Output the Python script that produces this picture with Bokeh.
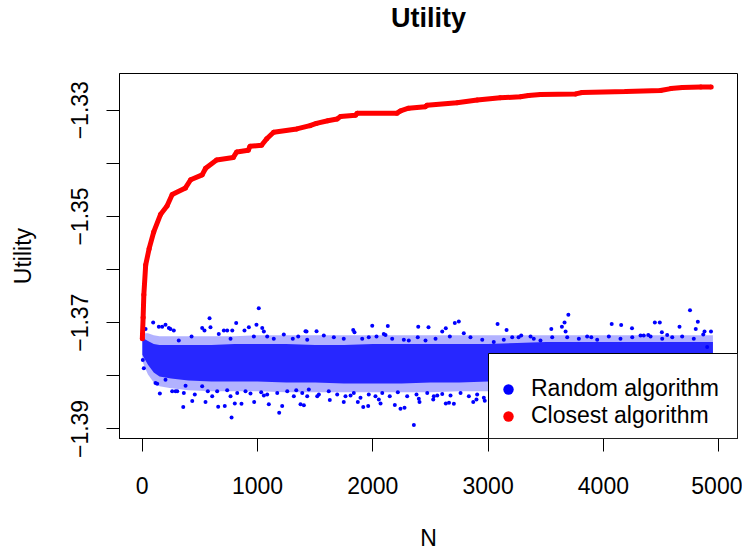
from bokeh.plotting import figure
from bokeh.models import FixedTicker, Legend, LegendItem, Range1d, BoxAnnotation
from bokeh.embed import file_html
from bokeh.resources import INLINE

# ---------------- data ----------------
title = "Utility"
x_label = "N"
y_label = "Utility"
x_ticks = [0, 1000, 2000, 3000, 4000, 5000]
y_ticks = [-1.39, -1.38, -1.37, -1.36, -1.35, -1.34, -1.33]
y_tick_labels = ["\u22121.39", "", "\u22121.37", "", "\u22121.35", "", "\u22121.33"]

# Closest algorithm (best utility found so far)
closest_n = [1, 8, 14, 30, 60, 100, 160, 215, 260, 375, 420, 520, 550, 645, 790, 820,
             920, 935, 1035, 1080, 1140, 1340, 1455, 1510, 1610, 1690, 1720, 1850, 1865,
             2210, 2240, 2310, 2455, 2470, 2730, 2905, 3105, 3280, 3350, 3455, 3760,
             3815, 4195, 4495, 4585, 4685, 4845, 4935]
closest_u = [-1.37304, -1.36902, -1.36476, -1.35915, -1.35606, -1.35291, -1.34957,
             -1.34804, -1.34587, -1.34463, -1.34309, -1.34217, -1.34093, -1.33939,
             -1.33889, -1.33785, -1.33754, -1.33680, -1.33661, -1.33537, -1.33415,
             -1.33352, -1.33291, -1.33248, -1.33198, -1.33167, -1.33119, -1.33093,
             -1.33056, -1.33056, -1.33013, -1.32963, -1.32933, -1.32907, -1.32859,
             -1.32809, -1.32767, -1.32748, -1.32722, -1.32704, -1.32693, -1.32667,
             -1.32648, -1.32630, -1.32593, -1.32574, -1.32563, -1.32563]

# Random algorithm: dense part of the cloud (upper / lower edge of the core and of its fringe)
band_n = [1, 20, 50, 100, 150, 250, 400, 600, 800, 1000, 1250, 1500, 1750, 2000, 2250,
          2500, 2750, 3000, 3250, 3500, 3750, 4000, 4250, 4500, 4750, 4950]
core_hi = [-1.37309, -1.37309, -1.37346, -1.37402, -1.37420, -1.37420, -1.37420, -1.37420,
           -1.37402, -1.37402, -1.37402, -1.37420, -1.37420, -1.37402, -1.37402, -1.37402,
           -1.37402, -1.37402, -1.37383, -1.37365, -1.37365, -1.37365, -1.37365, -1.37365,
           -1.37365, -1.37365]
core_lo = [-1.37605, -1.37680, -1.37791, -1.37939, -1.38013, -1.38050, -1.38087, -1.38106,
           -1.38106, -1.38106, -1.38124, -1.38124, -1.38143, -1.38143, -1.38143, -1.38124,
           -1.38124, -1.38106, -1.38106, -1.38106, -1.38106, -1.38106, -1.38106, -1.38106,
           -1.38106, -1.38106]
halo_hi = [-1.37217, -1.37198, -1.37198, -1.37235, -1.37254, -1.37254, -1.37254, -1.37254,
           -1.37254, -1.37235, -1.37235, -1.37235, -1.37235, -1.37235, -1.37235, -1.37235,
           -1.37235, -1.37235, -1.37235, -1.37235, -1.37235, -1.37235, -1.37235, -1.37235,
           -1.37235, -1.37235]
halo_lo = [-1.37717, -1.37828, -1.37976, -1.38124, -1.38198, -1.38235, -1.38272, -1.38291,
           -1.38291, -1.38291, -1.38309, -1.38309, -1.38309, -1.38309, -1.38309, -1.38309,
           -1.38291, -1.38291, -1.38291, -1.38291, -1.38291, -1.38291, -1.38291, -1.38291,
           -1.38291, -1.38291]

# Random algorithm: individual points visible outside the dense core
random_n = [
    1011, 584, 95, 815, 991, 202, 592, 520, 144, 1416, 925, 1041, 781, 245, 708,
    2746, 2711, 1995, 2130, 2394, 2483, 2633, 1425, 1512, 1830, 2602, 2789, 2095,
    3696, 4751, 4819, 4489, 4660, 4072, 4154, 4248, 3663, 3548, 3160, 3082, 4933, 4801,
    3640, 4389, 3895, 4507, 3264, 4446, 4877, 3672, 3287, 3368, 4350, 4553,
    775, 356, 153, 434, 549, 659, 716, 803, 861, 971, 1098, 1188, 1214, 1373, 1402,
    289, 607, 766, 1055, 1315, 361, 5, 14, 115,
    2356, 2240, 1917, 1960, 1748, 1870, 2067, 2191, 2405, 2633, 2703, 2871, 2971, 1627,
    1518, 2052, 2524, 2559, 2899, 1807, 2399, 2275, 2661,
    29, 173, 231, 274, 317, 428, 540, 664, 737, 766, 887, 968, 1055, 1084, 1141, 1228,
    1306, 1353, 1431, 1575, 1662, 1748, 1841, 1908, 1965, 2032, 2110, 2168, 2269, 2312,
    2390, 2457, 2544, 2668, 2847, 2949, 3049, 3136, 3209, 3396, 3454, 3556, 3686, 3787,
    3859, 3946, 4047, 4148, 4250, 4322, 4409, 4510, 4597, 4683, 4784, 4866, 4900,
    130, 202, 260, 304, 376, 456, 520, 569, 650, 737, 824, 896, 939, 1032, 1084, 1171,
    1258, 1336, 1388, 1445, 1431, 1532, 1618, 1691, 1763, 1835, 1893, 1965, 2023, 2082,
    2147, 2217, 2298, 2379, 2472, 2529, 2602, 2674, 2761, 2833, 2905, 2963]
random_u = [
    -1.36730, -1.36915, -1.36994, -1.37007, -1.37037, -1.37037, -1.37087, -1.37100,
    -1.37074, -1.37161, -1.37087, -1.37100, -1.37148, -1.37119, -1.37148,
    -1.36976, -1.37007, -1.37056, -1.37063, -1.37074, -1.37087, -1.37106, -1.37167,
    -1.37161, -1.37137, -1.37167, -1.37198, -1.37211,
    -1.36852, -1.36767, -1.36981, -1.36994, -1.37074, -1.37026, -1.37044, -1.37106,
    -1.36994, -1.37119, -1.37137, -1.37026, -1.37167, -1.37119,
    -1.37074, -1.37230, -1.37272, -1.37180, -1.37272, -1.36994, -1.37167, -1.37167,
    -1.37241, -1.37259, -1.37241, -1.37230,
    -1.38785, -1.38587, -1.38333, -1.38476, -1.38494, -1.38581, -1.38569, -1.38519,
    -1.38526, -1.38494, -1.38537, -1.38693, -1.38569, -1.38537, -1.38556,
    -1.38291, -1.38383, -1.38383, -1.38370, -1.38383, -1.38322, -1.37704, -1.37859, -1.38137,
    -1.38926, -1.38619, -1.38587, -1.38569, -1.38494, -1.38494, -1.38519, -1.38550,
    -1.38494, -1.38519, -1.38526, -1.38494, -1.38470, -1.38457,
    -1.38383, -1.38444, -1.38444, -1.38370, -1.38444, -1.38370, -1.38433, -1.38600, -1.38507,
    -1.37119, -1.37074, -1.37100, -1.37148, -1.37333, -1.37259, -1.37148, -1.37211,
    -1.37148, -1.37304, -1.37148, -1.37259, -1.37167, -1.37259, -1.37304, -1.37222,
    -1.37304, -1.37259, -1.37322, -1.37241, -1.37272, -1.37304, -1.37180, -1.37304,
    -1.37272, -1.37259, -1.37230, -1.37304, -1.37322, -1.37333,
    -1.37272, -1.37333, -1.37304, -1.37259, -1.37272, -1.37322, -1.37365, -1.37322,
    -1.37272, -1.37304, -1.37333, -1.37272, -1.37272, -1.37304,
    -1.37259, -1.37322, -1.37259, -1.37304, -1.37272, -1.37241, -1.37259, -1.37304,
    -1.37272, -1.37259, -1.37304, -1.37222, -1.37457,
    -1.38148, -1.38074, -1.38291, -1.38291, -1.38185, -1.38352, -1.38198, -1.38291,
    -1.38291, -1.38272, -1.38322, -1.38291, -1.38333, -1.38309, -1.38352, -1.38322,
    -1.38291, -1.38272, -1.38322, -1.38259, -1.38383, -1.38352, -1.38291, -1.38352,
    -1.38383, -1.38322, -1.38415, -1.38352, -1.38383, -1.38322,
    -1.38383, -1.38309, -1.38383, -1.38352, -1.38322, -1.38383, -1.38341, -1.38370,
    -1.38322, -1.38383, -1.38352, -1.38415]

# ---------------- figure ----------------
FONT = "Liberation Sans"

# trailing empty line lifts the title towards the top edge of the canvas
p = figure(width=742, height=553,
           x_range=Range1d(-197, 5163), y_range=Range1d(-1.39180, -1.32309),
           output_backend="svg", toolbar_location=None,
           min_border_left=119, min_border_right=5, min_border_top=72, min_border_bottom=110,
           title=title + "\n")

p.background_fill_color = "white"
p.border_fill_color = "white"
p.outline_line_color = "black"
p.outline_line_width = 1
p.outline_line_alpha = 1
p.grid.visible = False

p.title.text_font = FONT
p.title.text_font_size = "27px"
p.title.text_font_style = "bold"
p.title.text_color = "black"
p.title.align = "center"
p.title.vertical_align = "bottom"
p.title.text_line_height = 1.36
p.title.standoff = 0

for ax in (p.xaxis[0], p.yaxis[0]):
    ax.axis_line_color = "black"
    ax.major_tick_line_color = "black"
    ax.major_tick_out = 13
    ax.major_tick_in = 0
    ax.minor_tick_line_color = None
    ax.major_label_text_font = FONT
    ax.major_label_text_font_size = "23px"
    ax.major_label_text_color = "black"
    ax.axis_label_text_font = FONT
    ax.axis_label_text_font_size = "23px"
    ax.axis_label_text_font_style = "normal"
    ax.axis_label_text_color = "black"

p.xaxis.ticker = FixedTicker(ticks=x_ticks)
p.xaxis.major_label_overrides = {t: str(t) for t in x_ticks}
p.xaxis.major_label_standoff = 25
p.xaxis.axis_label = x_label
p.xaxis.axis_label_standoff = 28

p.yaxis.ticker = FixedTicker(ticks=y_ticks)
p.yaxis.major_label_overrides = dict(zip(y_ticks, y_tick_labels))
p.yaxis.major_label_orientation = "vertical"
p.yaxis.major_label_standoff = 18
p.yaxis.axis_label = y_label
p.yaxis.axis_label_standoff = 33

# Random algorithm cloud
p.varea(x=band_n, y1=halo_lo, y2=halo_hi, fill_color="blue", fill_alpha=0.3)
p.varea(x=band_n, y1=core_lo, y2=core_hi, fill_color="blue", fill_alpha=0.78)
blue_r = p.scatter(random_n, random_u, size=4, fill_color="blue", line_color=None)

# Closest algorithm
p.line(closest_n, closest_u, line_color="red", line_width=5)
red_r = p.scatter(closest_n, closest_u, size=5, fill_color="red", line_color=None)

# legend: white framed box in the lower right corner of the plot region
legend_box = BoxAnnotation(left=369, left_units="screen", top=85, top_units="screen",
                           fill_color="white", fill_alpha=1.0,
                           line_color="black", line_width=1, line_alpha=1.0)
p.add_layout(legend_box)

legend = Legend(items=[LegendItem(label="Random algorithm", renderers=[blue_r]),
                       LegendItem(label="Closest algorithm", renderers=[red_r])],
                location=(376, 9), margin=0, padding=8,
                glyph_width=26, glyph_height=26, label_height=26, spacing=0,
                label_standoff=10, label_text_font=FONT, label_text_font_size="23px",
                label_text_color="black",
                border_line_color=None, background_fill_alpha=0)
p.add_layout(legend)

open("out.html", "w").write(file_html(p, INLINE))
